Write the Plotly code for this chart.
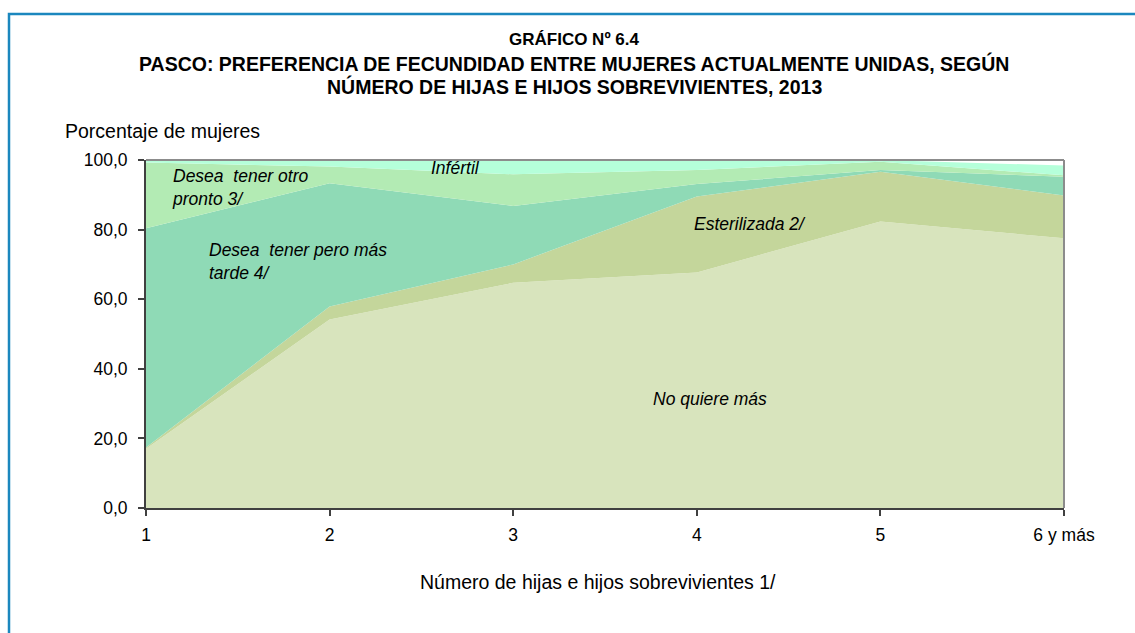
import plotly.graph_objects as go

categorias = ["1", "2", "3", "4", "5", "6 y más"]
no_quiere_mas = [17.0, 54.2, 64.7, 67.7, 82.3, 77.5]
esterilizada = [0.4, 3.7, 5.3, 21.8, 14.3, 12.3]
desea_mas_tarde = [63.0, 35.4, 16.8, 3.6, 0.5, 5.4]
desea_pronto = [18.9, 4.8, 9.1, 4.0, 2.4, 0.4]
infertil = [0.7, 1.9, 4.1, 2.9, 0.5, 2.8]

y_ticks = [0, 20, 40, 60, 80, 100]
y_ticktext = ["0,0", "20,0", "40,0", "60,0", "80,0", "100,0"]

series = [
    ("No quiere más", no_quiere_mas, "#D8E4BD"),
    ("Esterilizada 2/", esterilizada, "#C4D69B"),
    ("Desea tener pero más tarde 4/", desea_mas_tarde, "#8FDAB6"),
    ("Desea tener otro pronto 3/", desea_pronto, "#B3EBB4"),
    ("Infértil", infertil, "#B5FFDA"),
]

xpos = list(range(len(categorias)))

fig = go.Figure()
for name, vals, col in series:
    fig.add_trace(go.Scatter(
        x=xpos, y=vals, name=name, stackgroup="one", mode="lines",
        line=dict(width=0, color=col), fillcolor=col, showlegend=False,
        hoverinfo="skip",
    ))

FONT = "Liberation Sans, Arial, sans-serif"

L, R, T, B = 146, 71, 160, 125
W, H = 1135, 633
pw, ph = W - L - R, H - T - B

def px(x):
    return (x - L) / pw

def py(y):
    return (H - B - y) / ph

fig.update_layout(
    width=W, height=H,
    margin=dict(l=L, r=R, t=T, b=B),
    paper_bgcolor="white", plot_bgcolor="white",
    font=dict(family=FONT, size=16, color="black"),
    xaxis=dict(
        range=[0, 5], tickvals=xpos, ticktext=categorias,
        showgrid=False, zeroline=False,
        showline=True, linecolor="#404040", linewidth=2,
        ticks="outside", ticklen=6, tickcolor="#404040", tickwidth=1.5,
        tickfont=dict(size=17.5, family=FONT), ticklabelstandoff=4,
    ),
    yaxis=dict(
        range=[0, 100], tickvals=y_ticks, ticktext=y_ticktext,
        showgrid=False, zeroline=False,
        showline=True, linecolor="#404040", linewidth=2,
        ticks="outside", ticklen=6, tickcolor="#404040", tickwidth=1.5,
        tickfont=dict(size=17.5, family=FONT), ticklabelstandoff=7,
    ),
)

# plot area border (top/right gray)
fig.add_shape(type="line", xref="paper", yref="paper", x0=0, x1=1, y0=1, y1=1,
              line=dict(color="#8C8C8C", width=2))
fig.add_shape(type="line", xref="paper", yref="paper", x0=1, x1=1, y0=0, y1=1,
              line=dict(color="#8C8C8C", width=2))

# outer blue frame
fig.add_shape(type="rect", xref="paper", yref="paper",
              x0=px(9), x1=px(1145), y0=py(645), y1=py(14),
              line=dict(color="#1B87BE", width=2.5), fillcolor="rgba(0,0,0,0)",
              layer="below")

# title
title_lines = [
    ("GRÁFICO Nº 6.4", 40, 17),
    ("PASCO: PREFERENCIA DE FECUNDIDAD ENTRE MUJERES ACTUALMENTE UNIDAS, SEGÚN", 63, 19.5),
    ("NÚMERO DE HIJAS E HIJOS SOBREVIVIENTES, 2013", 87, 19.5),
]
for txt, yy, fs in title_lines:
    fig.add_annotation(text="<b>" + txt + "</b>", xref="paper", yref="paper",
                       x=px(574), y=py(yy), showarrow=False,
                       xanchor="center", yanchor="middle",
                       font=dict(size=fs, family=FONT, color="black"))

fig.add_annotation(text="Porcentaje de mujeres", xref="paper", yref="paper",
                   x=px(63), y=py(131), showarrow=False, xanchor="left",
                   yanchor="middle", font=dict(size=19.5, family=FONT))

fig.add_annotation(text="Número de hijas e hijos sobrevivientes 1/", xref="paper",
                   yref="paper", x=px(598), y=py(582), showarrow=False,
                   xanchor="center", yanchor="middle",
                   font=dict(size=19.5, family=FONT))

labels = [
    ("Desea  tener otro<br>pronto 3/", 170, 187),
    ("Infértil", 429, 168),
    ("Desea  tener pero más<br>tarde 4/", 207, 261),
    ("Esterilizada 2/", 692, 224),
    ("No quiere más", 651, 399),
]
for txt, xx, yy in labels:
    fig.add_annotation(text="<i>" + txt + "</i>", xref="paper", yref="paper",
                       x=px(xx), y=py(yy), showarrow=False, xanchor="left",
                       yanchor="middle", align="left",
                       font=dict(size=17.5, family=FONT, color="black"))

fig.write_html("out.html", config={"displayModeBar": False},
               post_script="document.body.style.margin='0';document.body.style.padding='0';document.body.style.overflow='hidden';")
